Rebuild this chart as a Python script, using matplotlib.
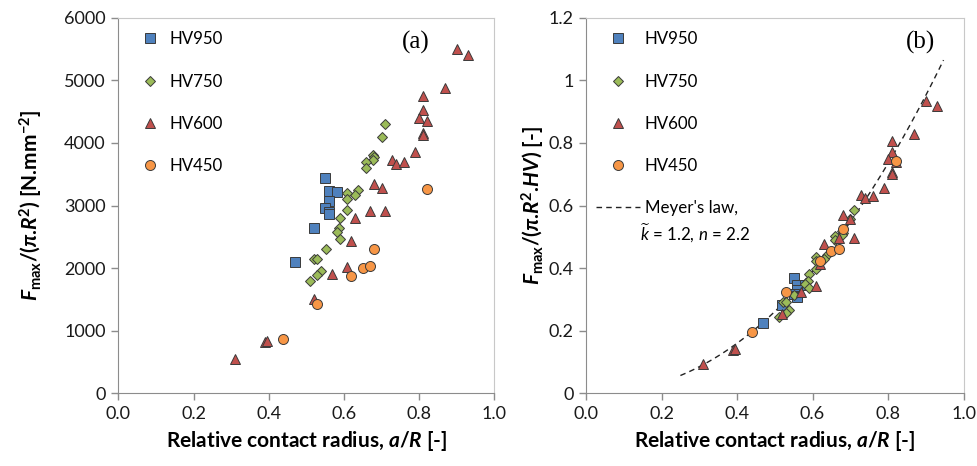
import matplotlib
matplotlib.use("Agg")
import matplotlib.pyplot as plt
import numpy as np

# a/R and Fmax/(pi.R^2) [N/mm2]
hv950_x = [0.550, 0.560, 0.581, 0.560, 0.550, 0.560, 0.560, 0.519, 0.470]
hv950_y = [3440, 3226, 3210, 3077, 2965, 2900, 2870, 2637, 2100]

hv750_x = [0.709, 0.700, 0.678, 0.680, 0.677, 0.659, 0.659, 0.638, 0.630, 0.609, 0.609,
           0.609, 0.590, 0.588, 0.581, 0.590, 0.551, 0.521, 0.529, 0.539, 0.529, 0.510]
hv750_y = [4300, 4090, 3810, 3770, 3730, 3700, 3600, 3250, 3160, 3200, 3110,
           2930, 2800, 2640, 2580, 2470, 2310, 2150, 2150, 1960, 1890, 1800]

hv600_x = [0.900, 0.929, 0.870, 0.810, 0.810, 0.799, 0.820, 0.810, 0.810, 0.789, 0.729,
           0.739, 0.760, 0.680, 0.700, 0.669, 0.709, 0.630, 0.619, 0.609, 0.569, 0.519,
           0.390, 0.395, 0.310]
hv600_y = [5500, 5400, 4880, 4750, 4530, 4400, 4350, 4160, 4120, 3860, 3720,
           3670, 3700, 3350, 3280, 2920, 2920, 2800, 2430, 2020, 1910, 1500,
           820, 840, 550]

hv450_x = [0.820, 0.680, 0.650, 0.669, 0.620, 0.529, 0.439]
hv450_y = [3270, 2310, 2000, 2040, 1870, 1430, 860]

# Vickers hardness of each series (kgf/mm2) and g to get N/mm2
hardness = [950, 750, 600, 450]
g = 9.807

# Meyer's law for panel (b)
k_meyer = 1.2
n_meyer = 2.2
meyer_start, meyer_end = 0.25, 0.947

plt.rcParams['font.family'] = ['Lato', 'DejaVu Sans']
plt.rcParams['mathtext.fontset'] = 'custom'
plt.rcParams['mathtext.rm'] = 'Lato'
plt.rcParams['mathtext.it'] = 'Lato:italic'
plt.rcParams['mathtext.bf'] = 'Lato:bold'
plt.rcParams['mathtext.bfit'] = 'Lato:bold:italic'

series = [
    ("HV950", hv950_x, hv950_y, 's', '#4F81BD', 7),
    ("HV750", hv750_x, hv750_y, 'D', '#9BBB59', 5.3),
    ("HV600", hv600_x, hv600_y, '^', '#C0504D', 7),
    ("HV450", hv450_x, hv450_y, 'o', '#F79646', 7.2),
]

fig = plt.figure(figsize=(9.78, 4.66), dpi=100)
ax1 = fig.add_axes([0.121, 0.156, 0.3845, 0.806])
ax2 = fig.add_axes([0.5992, 0.156, 0.386, 0.806])

for (name, xs, ys, mk, col, ms), hv in zip(series, hardness):
    ax1.plot(xs, ys, ls='none', marker=mk, ms=ms, mfc=col, mec='#3a3a3a',
             mew=0.7, label=name)
    ax2.plot(xs, np.array(ys) / (hv * g), ls='none', marker=mk, ms=ms, mfc=col,
             mec='#3a3a3a', mew=0.7, label=name)

xm = np.linspace(meyer_start, meyer_end, 60)
ax2.plot(xm, k_meyer * xm ** n_meyer, ls=(0, (4, 3)), color='#222222', lw=1.0,
         label="Meyer's law,", zorder=1)

ax1.set_xlim(0, 1)
ax1.set_ylim(0, 6000)
ax1.set_yticks(np.arange(0, 6001, 1000))
ax2.set_xlim(0, 1)
ax2.set_ylim(0, 1.2)
ax2.set_yticks([0, 0.2, 0.4, 0.6, 0.8, 1.0, 1.2])
ax2.set_yticklabels(['0', '0.2', '0.4', '0.6', '0.8', '1', '1.2'])

for ax in (ax1, ax2):
    ax.set_xticks(np.arange(0, 1.01, 0.2))
    ax.set_xticklabels(['0.0', '0.2', '0.4', '0.6', '0.8', '1.0'])
    ax.tick_params(direction='out', length=5, width=1, color='#8c8c8c',
                   labelsize=13, labelcolor='#1a1a1a', pad=4)
    for s in ('left', 'bottom'):
        ax.spines[s].set_color('#8c8c8c')
    for s in ('top', 'right'):
        ax.spines[s].set_color('#c8c8c8')
    ax.set_xlabel(r'Relative contact radius, $\mathbfit{a}$/$\mathbfit{R}$ [-]',
                  fontsize=15, fontweight='bold', labelpad=5)

ax1.set_ylabel(r'$\mathbfit{F}_{\mathbf{max}}$/($\mathbfit{\pi}$.$\mathbfit{R}^{\mathbf{2}}$) [N.mm$^{\mathbf{-2}}$]',
               fontsize=15, fontweight='bold', labelpad=14)
ax2.set_ylabel(r'$\mathbfit{F}_{\mathbf{max}}$/($\mathbfit{\pi}$.$\mathbfit{R}^{\mathbf{2}}$.$\mathbfit{HV}$) [-]',
               fontsize=15, fontweight='bold', labelpad=1)

ax1.legend(loc='upper left', frameon=False, fontsize=12.2, labelspacing=1.55,
           handlelength=1.2, handletextpad=0.6, borderaxespad=0.4,
           bbox_to_anchor=(0.02, 1.0))
ax2.legend(loc='upper left', frameon=False, fontsize=12.2, labelspacing=1.55,
           handlelength=2.6, handletextpad=0.3, borderaxespad=0.4,
           bbox_to_anchor=(-0.01, 1.0))
ax2.text(0.143, 0.428, r'$\widetilde{k}$ = 1.2, $n$ = 2.2', transform=ax2.transAxes,
         fontsize=12.2, va='center', ha='left')

ax1.text(0.792, 0.935, '(a)', transform=ax1.transAxes, fontsize=18,
         family='Liberation Serif', va='center', ha='center')
ax2.text(0.885, 0.935, '(b)', transform=ax2.transAxes, fontsize=18,
         family='Liberation Serif', va='center', ha='center')

fig.savefig('out.png', dpi=100)
